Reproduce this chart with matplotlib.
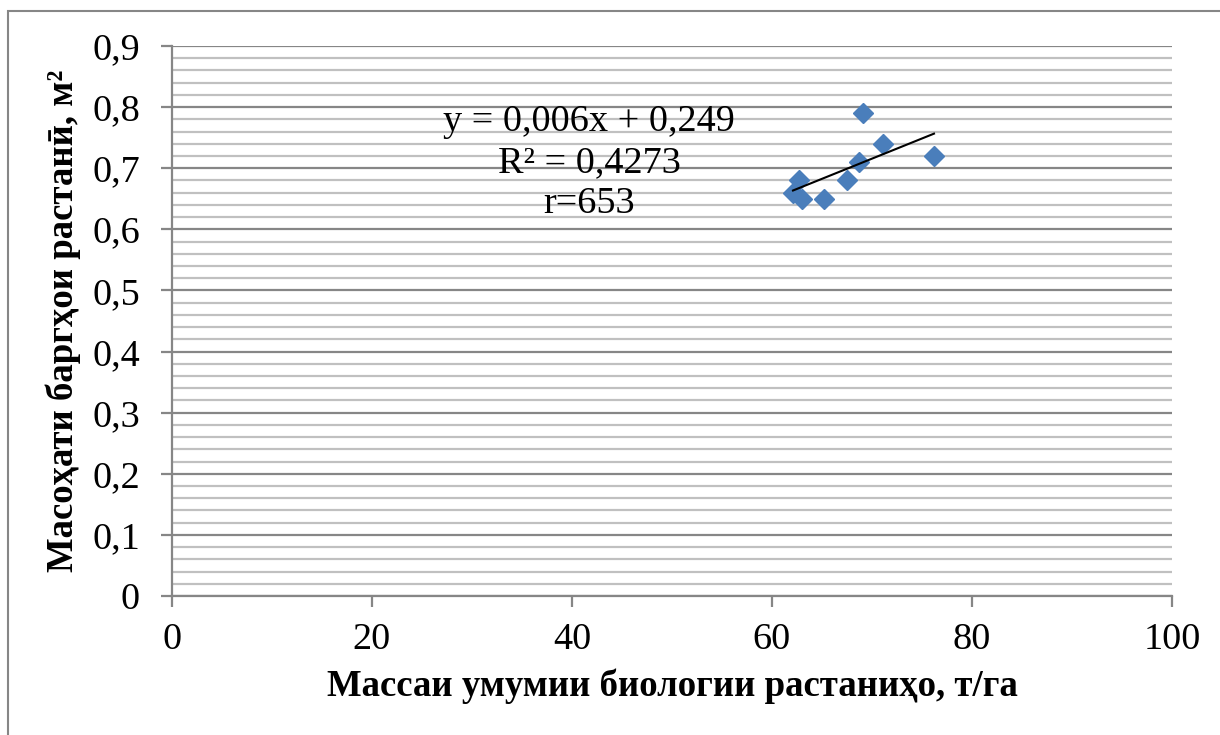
import numpy as np
import matplotlib
matplotlib.use("Agg")
import matplotlib.pyplot as plt
from matplotlib.ticker import MultipleLocator, FuncFormatter
from matplotlib.patches import Rectangle

# Data
biomass = [69.1, 71.1, 76.2, 68.7, 67.5, 62.7, 62.1, 63.0, 65.2]
leaf_area = [0.79, 0.74, 0.72, 0.71, 0.68, 0.68, 0.66, 0.65, 0.65]
x_ticks = [0, 20, 40, 60, 80, 100]
y_ticks = [0, 0.1, 0.2, 0.3, 0.4, 0.5, 0.6, 0.7, 0.8, 0.9]
eq_lines = ["y = 0,006x + 0,249", "R² = 0,4273", "r=653"]
xlabel = "Массаи умумии биологии растаниҳо, т/га"
ylabel = "Масоҳати баргҳои растанӣ, м²"

plt.rcParams['font.family'] = ['Liberation Serif', 'DejaVu Serif']

W, H = 1220, 735
fig = plt.figure(figsize=(W/100, H/100), dpi=100)
ax = fig.add_axes([172/W, 1-596/H, 1000/W, 550/H])

grid_major = '#868686'
grid_minor = '#c0c0c0'

ax.set_xlim(0, 100)
ax.set_ylim(0, 0.9)
ax.set_xticks(x_ticks)
ax.set_yticks(y_ticks)
ax.yaxis.set_minor_locator(MultipleLocator(0.02))
ax.yaxis.set_major_formatter(FuncFormatter(lambda v, p: ('%g' % round(v, 2)).replace('.', ',')))
ax.xaxis.set_major_formatter(FuncFormatter(lambda v, p: '%d' % v))

ax.grid(True, which='major', axis='y', color=grid_major, lw=1.6)
ax.grid(True, which='minor', axis='y', color=grid_minor, lw=1.6)
ax.set_axisbelow(True)

for s in ['top', 'right']:
    ax.spines[s].set_visible(False)
for s in ['left', 'bottom']:
    ax.spines[s].set_color(grid_major)
    ax.spines[s].set_linewidth(1.6)

ax.tick_params(axis='both', which='major', direction='out', color=grid_major,
               width=1.6, length=8, labelsize=27.5)
ax.tick_params(axis='y', which='major', pad=15)
ax.tick_params(axis='x', which='major', pad=11)
ax.tick_params(axis='y', which='minor', length=0)

# Trendline
coef = np.polyfit(biomass, leaf_area, 1)
xs = np.array([min(biomass), max(biomass)])
ax.plot(xs, np.polyval(coef, xs), color='black', lw=1.5, zorder=4)

ax.plot(biomass, leaf_area, linestyle='none', marker='D', ms=10.5,
        color='#4a7ebb', mec='#4a7ebb', zorder=3)

for i, t in enumerate(eq_lines):
    ax.text(589/W, 1 - (122 + 41*i)/H, t, transform=fig.transFigure, fontsize=27.5,
            ha='center', va='center')

ax.set_xlabel(xlabel, fontsize=26.5, fontweight='bold', labelpad=8)
ax.set_ylabel(ylabel, fontsize=26.5, fontweight='bold', labelpad=8)

# outer chart border (left and top visible)
fig.patches.append(Rectangle((8/W, -0.1), 1.2, 1-11/H+0.1, transform=fig.transFigure,
                             fill=False, edgecolor='#868686', lw=1.5))

fig.savefig('out.png', dpi=100)
